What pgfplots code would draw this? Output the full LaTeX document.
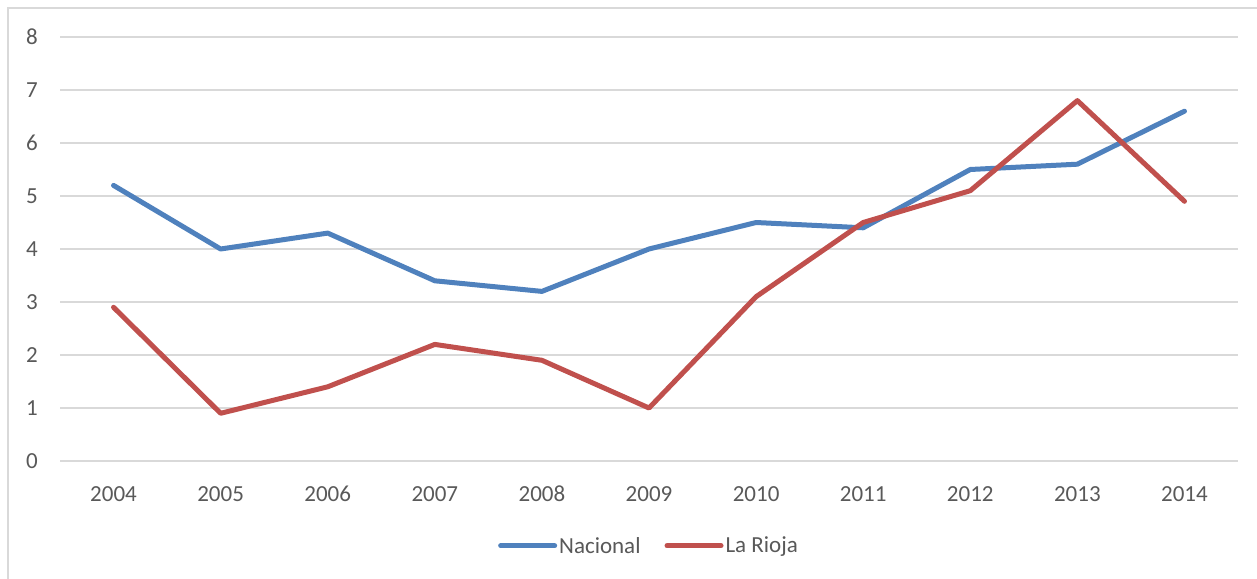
\documentclass[border=0pt]{standalone}
\usepackage{pgfplots}
\pgfplotsset{compat=1.18}
\usepackage{fontspec}
\setmainfont{Carlito}
\definecolor{nac}{HTML}{4F81BD}
\definecolor{rio}{HTML}{C0504D}
\definecolor{gridc}{HTML}{D9D9D9}
\definecolor{txt}{HTML}{595959}
\begin{document}
\begin{tikzpicture}[x=1pt,y=1pt]
\useasboundingbox (-60,-117) rectangle (1197,461);
\draw[gridc, line width=1.5pt] (-52,-130) -- (-52,453) -- (1210,453);
\begin{axis}[
  at={(0,0)}, anchor=south west,
  scale only axis, width=1178pt, height=424pt,
  xmin=-0.5, xmax=10.5, ymin=0, ymax=8,
  xtick={0,...,10},
  xticklabels={2004,2005,2006,2007,2008,2009,2010,2011,2012,2013,2014},
  ytick={0,...,8},
  axis line style={draw=none},
  tick style={draw=none},
  xmajorgrids=false, ymajorgrids=true,
  major grid style={draw=gridc, line width=1.5pt},
  font=\fontsize{23}{27}\selectfont,
  ticklabel style={text=txt, font=\fontsize{23}{27}\selectfont},
  /pgf/number format/assume math mode=true,
  xticklabel style={anchor=base, inner sep=0pt, yshift=-40pt},
  yticklabel style={anchor=east, inner sep=0pt, xshift=-22pt},
  legend columns=-1,
  legend style={draw=none, at={(0.5,-0.2)}, anchor=center, font=\fontsize{23}{27}\selectfont, text=txt,
    /tikz/every even column/.append style={column sep=22pt}},
  legend image code/.code={\draw[#1, line cap=round] (0pt,0pt) -- (54pt,0pt);},
]
\addplot[nac, line width=5pt, line join=round, line cap=round] coordinates {
(0,5.2) (1,4.0) (2,4.3) (3,3.4) (4,3.2) (5,4.0) (6,4.5) (7,4.4) (8,5.5) (9,5.6) (10,6.6)};
\addlegendentry{Nacional}
\addplot[rio, line width=5pt, line join=round, line cap=round] coordinates {
(0,2.9) (1,0.9) (2,1.4) (3,2.2) (4,1.9) (5,1.0) (6,3.1) (7,4.5) (8,5.1) (9,6.8) (10,4.9)};
\addlegendentry{La Rioja}
\end{axis}
\end{tikzpicture}
\end{document}
